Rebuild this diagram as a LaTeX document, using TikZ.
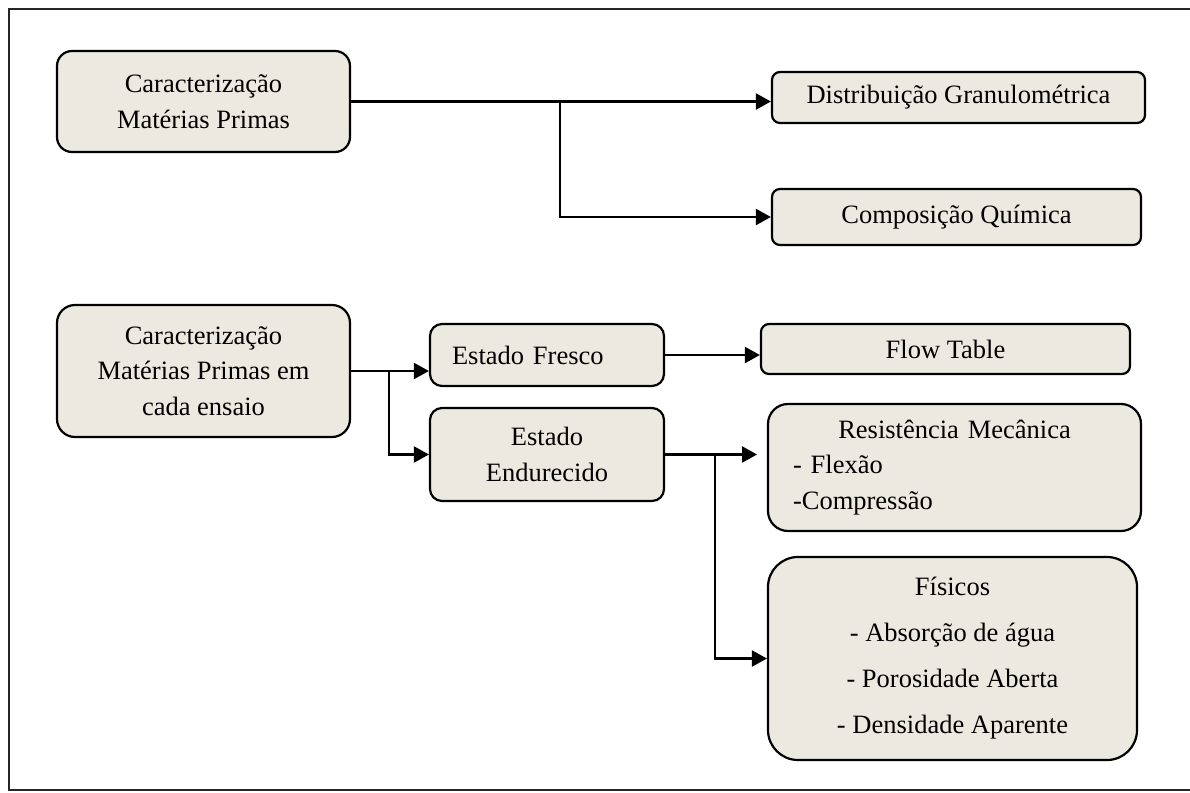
\documentclass[tikz,border=0pt]{standalone}
\usepackage{fontspec}
\setmainfont{Liberation Serif}
\usetikzlibrary{arrows.meta}
\definecolor{boxfill}{RGB}{236,234,224}
\tikzset{
  box/.style={draw=black, line width=2.2pt, fill=boxfill, align=center, inner sep=0pt,
    font=\fontsize{26.5}{35.5}\selectfont},
  conn/.style={line width=2.2pt, draw=black},
  arr/.style={conn, -{Triangle[length=15pt,width=16pt]}},
  frame/.style={draw=black!85, line width=2pt}
}
\begin{document}
\begin{tikzpicture}[x=1pt,y=-1pt]
\useasboundingbox (0,0) rectangle (1190,792);
\draw[frame] (9,9) rectangle (1200,790);

\node[box, minimum width=293, minimum height=101, rounded corners=15] (A) at (203.5,101.5)
  {Caracterização\\Matérias Primas};
\node[box, minimum width=373, minimum height=51, rounded corners=8] (B) at (958.5,97.5)
  {Distribuição Granulométrica};
\node[box, minimum width=369, minimum height=56, rounded corners=8] (C) at (956.5,217)
  {Composição Química};
\node[box, minimum width=293, minimum height=132, rounded corners=18] (D) at (203.5,371)
  {Caracterização\\Matérias Primas em\\cada ensaio};
\node[box, minimum width=234, minimum height=62, rounded corners=12, align=left,
  text width=190pt] (E) at (547,355) {Estado Fresco};
\node[box, minimum width=234, minimum height=93, rounded corners=12] (F) at (547,454.5)
  {Estado\\Endurecido};
\node[box, minimum width=369, minimum height=50, rounded corners=8] (G) at (945.5,349)
  {Flow Table};
\node[box, minimum width=373, minimum height=127, rounded corners=20, align=left,
  text width=323pt] (H) at (954.5,467.5)
  {{\centering Resistência Mecânica\par}- Flexão\par -Compressão};
\node[box, minimum width=369, minimum height=203, rounded corners=30] (I) at (952.5,658.5)
  {Físicos\\[10.5pt]- Absorção de água\\[10.5pt]- Porosidade Aberta\\[10.5pt]- Densidade Aparente};

% top group
\coordinate (j1) at (560,0 |- A.east);
\draw[arr] (A.east) -- (A.east -| B.west);
\draw[arr] (j1) |- (C.west);

% bottom group
\coordinate (j2) at (389,0 |- D.east);
\draw[arr] (D.east) -- (D.east -| E.west);
\draw[arr] (j2) |- (F.west);
\draw[arr] (E.east) -- (E.east -| G.west);
\coordinate (hin) at (757,0 |- F.east);
\draw[arr] (F.east) -- (hin);
\coordinate (j3) at (715,0 |- F.east);
\draw[arr] (j3) |- (I.west);
\end{tikzpicture}
\end{document}
